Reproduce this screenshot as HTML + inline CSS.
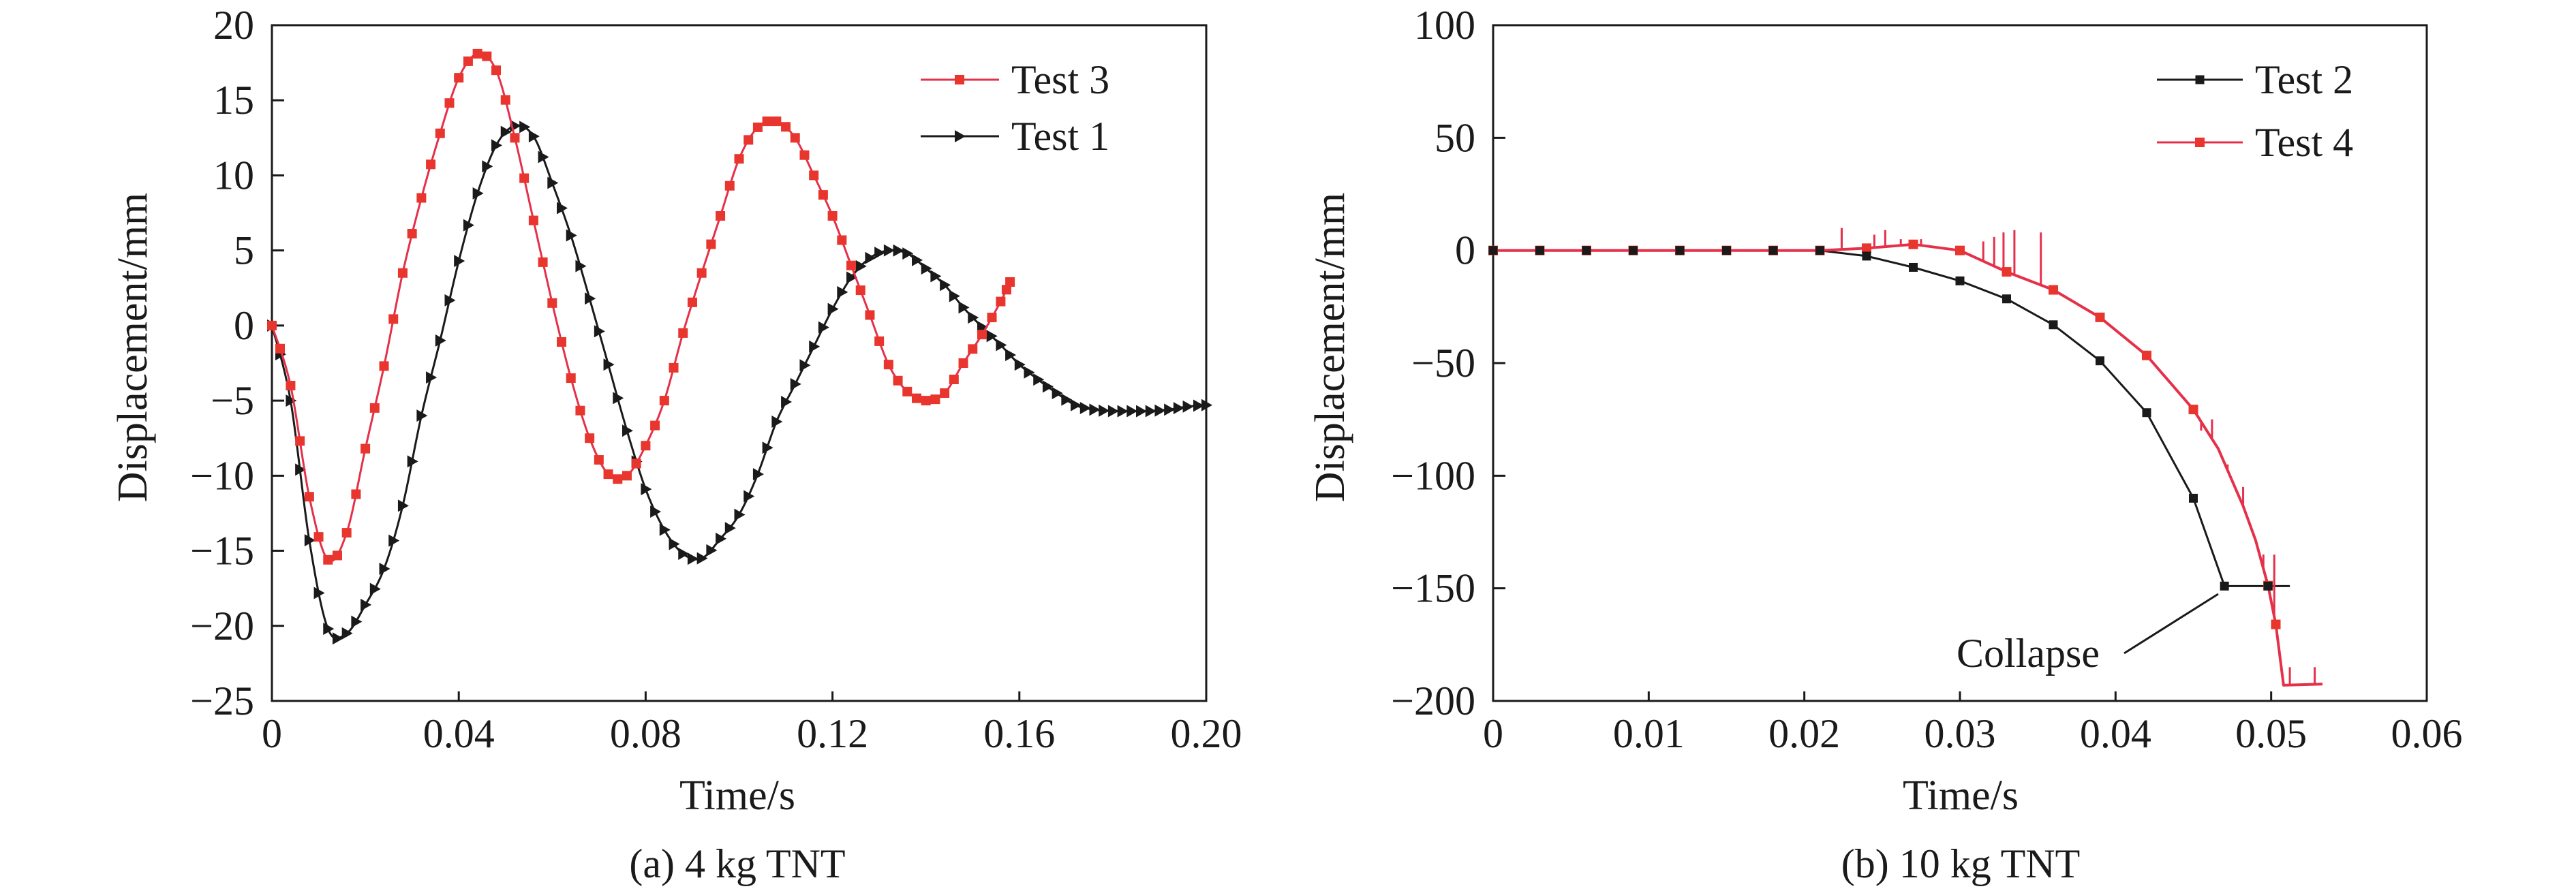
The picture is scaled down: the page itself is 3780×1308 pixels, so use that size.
<!DOCTYPE html>
<html><head><meta charset="utf-8"><style>
html,body{margin:0;padding:0;background:#fff}
svg{display:block}
text{font-family:"Liberation Serif",serif;fill:#1a1a1a}
</style></head><body>
<svg id="fig" width="3780" height="1308" viewBox="0 0 3780 1308" xmlns="http://www.w3.org/2000/svg"></svg>
<script>
// ---- Chart (a) data ----
const aTest3T = [0,0.004,0.008,0.012,0.016,0.020,0.024,0.028,0.032,0.036,0.040,0.044,0.048,0.052,0.056,0.060,0.064,0.068,0.072,0.076,0.080,0.084,0.088,0.092,0.096,0.100,0.104,0.108,0.112,0.116,0.120,0.124,0.128,0.132,0.136,0.140,0.144,0.148,0.152,0.156,0.158];
const aTest3V = [0,-4,-11.4,-15.6,-13.8,-8.2,-2.7,3.5,8.5,12.8,16.5,18.1,17,12.5,7.0,1.5,-3.5,-7.5,-9.9,-10.0,-8.0,-5.0,-0.5,3.5,7.3,11.1,13.2,13.6,12.5,10.0,7.3,4.0,0.7,-2.6,-4.4,-5.0,-4.5,-2.5,-0.6,1.6,2.9];
const aTest1T = [0,0.004,0.008,0.012,0.016,0.020,0.024,0.028,0.032,0.036,0.040,0.044,0.048,0.052,0.056,0.060,0.064,0.068,0.072,0.076,0.080,0.084,0.088,0.092,0.096,0.100,0.104,0.108,0.112,0.116,0.120,0.124,0.128,0.132,0.136,0.140,0.144,0.148,0.152,0.156,0.160,0.164,0.168,0.172,0.176,0.180,0.184,0.188,0.192,0.196,0.200];
const aTest1V = [0,-5.0,-14.3,-20.2,-20.5,-18.6,-16.2,-12.0,-6.0,-1.0,4.3,8.8,12.0,13.3,12.6,9.5,6.0,1.8,-2.6,-7.0,-10.9,-13.6,-15.2,-15.5,-14.2,-12.6,-9.9,-6.4,-3.9,-1.4,1.1,3.2,4.5,5.0,4.8,3.8,2.7,1.2,-0.1,-1.3,-2.6,-3.6,-4.5,-5.3,-5.6,-5.7,-5.7,-5.7,-5.6,-5.4,-5.3];
const aXTicks = [0,0.04,0.08,0.12,0.16,0.20];
const aXLabels = ["0","0.04","0.08","0.12","0.16","0.20"];
const aYTicks = [-25,-20,-15,-10,-5,0,5,10,15,20];
const aYLabels = ["\u221225","\u221220","\u221215","\u221210","\u22125","0","5","10","15","20"];
// ---- Chart (b) data ----
const bTest2T = [0,0.003,0.006,0.009,0.012,0.015,0.018,0.021,0.024,0.027,0.030,0.033,0.036,0.039,0.042,0.045,0.047,0.0498,0.0512];
const bTest2V = [0,0,0,0,0,0,0,0,-2.5,-7.5,-13.5,-21.5,-33,-49,-72,-110,-149,-149,-149];
const bTest4T = [0,0.003,0.006,0.009,0.012,0.015,0.018,0.021,0.024,0.027,0.030,0.033,0.036,0.039,0.042,0.045,0.0466,0.0482,0.049,0.0498,0.0503,0.0508,0.0533];
const bTest4V = [0,0,0,0,0,0,0,0,1,2.7,0,-9.5,-17.5,-29.7,-46.6,-70.6,-88,-113.5,-128.6,-148.8,-166,-193,-192.5];
const bSpikeT = [0.0224,0.0245,0.0252,0.0262,0.0275,0.0315,0.0322,0.0328,0.0335,0.0352,0.0455,0.0462,0.0472,0.0482,0.0488,0.0495,0.0502,0.0512,0.0528];
const bSpikeV = [10,7,9,5,5,4,6,8,9,8,-80,-75,-95,-105,-125,-135,-135,-185,-185];
const bXTicks = [0,0.01,0.02,0.03,0.04,0.05,0.06];
const bXLabels = ["0","0.01","0.02","0.03","0.04","0.05","0.06"];
const bYTicks = [-200,-150,-100,-50,0,50,100];
const bYLabels = ["\u2212200","\u2212150","\u2212100","\u221250","0","50","100"];

const NS="http://www.w3.org/2000/svg";
const svg=document.getElementById('fig');
function mk(tag,attrs,parent){const e=document.createElementNS(NS,tag);for(const k in attrs)e.setAttribute(k,attrs[k]);(parent||svg).appendChild(e);return e;}
const RED="#e5304a", REDM="#e8352d", BLK="#1a1a1a";

function axes(g,L,R,T,B,xmin,xmax,ymin,ymax,xt,xl,yt,yl){
  const sx=v=>L+(v-xmin)/(xmax-xmin)*(R-L);
  const sy=v=>B-(v-ymin)/(ymax-ymin)*(B-T);
  const fr=mk('rect',{x:L,y:T,width:R-L,height:B-T,fill:'none',stroke:BLK,'stroke-width':3},g);
  
  
  xt.forEach((v,i)=>{
    const tk=mk('line',{x1:sx(v),x2:sx(v),y1:B,y2:B-14,stroke:BLK,'stroke-width':3},g);
    
    
    const t=mk('text',{x:sx(v),y:1097,'font-size':60,'text-anchor':'middle'},g);
    
    
    t.textContent=xl[i];
  });
  yt.forEach((v,i)=>{
    const tk=mk('line',{x1:L,x2:L+18,y1:sy(v),y2:sy(v),stroke:BLK,'stroke-width':3},g);
    
    
    const t=mk('text',{x:L-26,y:sy(v)+20,'font-size':60,'text-anchor':'end'},g);
    
    
    t.textContent=yl[i];
  });
  return {sx,sy};
}
function path(g,xs,ys,sx,sy,color,w){
  const d=xs.map((t,i)=>(i?'L':'M')+sx(t).toFixed(1)+' '+sy(ys[i]).toFixed(1)).join(' ');
  return mk('path',{d,fill:'none',stroke:color,'stroke-width':w,'stroke-linejoin':'round'},g);
}
// returns path and list of segment midpoints (points on the spline)
function smooth(g,xs,ys,sx,sy,color,w){
  const P=xs.map((t,i)=>[sx(t),sy(ys[i])]);
  let d='M'+P[0][0]+' '+P[0][1];
  const mids=[];
  for(let i=0;i<P.length-1;i++){
    const p0=P[Math.max(0,i-1)],p1=P[i],p2=P[i+1],p3=P[Math.min(P.length-1,i+2)];
    const c1=[p1[0]+(p2[0]-p0[0])/6,p1[1]+(p2[1]-p0[1])/6];
    const c2=[p2[0]-(p3[0]-p1[0])/6,p2[1]-(p3[1]-p1[1])/6];
    d+=` C${c1[0].toFixed(1)} ${c1[1].toFixed(1)} ${c2[0].toFixed(1)} ${c2[1].toFixed(1)} ${p2[0].toFixed(1)} ${p2[1].toFixed(1)}`;
    mids.push([(p1[0]+3*c1[0]+3*c2[0]+p2[0])/8,(p1[1]+3*c1[1]+3*c2[1]+p2[1])/8]);
  }
  const p=mk('path',{d,fill:'none',stroke:color,'stroke-width':w},g);
  return {p,mids};
}
function square(g,x,y,c,s){return mk('rect',{x:x-s/2,y:y-s/2,width:s,height:s,fill:c},g);}
function tri(g,x,y){return mk('path',{d:`M${x-7} ${y-9} L${x+9} ${y} L${x-7} ${y+9} Z`,fill:BLK},g);}
function txt(g,x,y,s,anchor,str,name,rot){
  const t=mk('text',{x,y,'font-size':s,'text-anchor':anchor},g);
  if(rot)t.setAttribute('transform',`rotate(-90 ${x} ${y})`);
  
  
  t.textContent=str;return t;
}

// ---------- Chart A ----------
const gA=mk('g',{});


const A=axes(gA,399,1770,37,1029,0,0.2,-25,20,aXTicks,aXLabels,aYTicks,aYLabels);
const s1=smooth(gA,aTest1T,aTest1V,A.sx,A.sy,BLK,3);


aTest1T.forEach((t,i)=>{const m=tri(gA,A.sx(t),A.sy(aTest1V[i]));
  
  });
s1.mids.forEach(q=>{const m=tri(gA,q[0],q[1]);
  
  });
const s3=smooth(gA,aTest3T,aTest3V,A.sx,A.sy,RED,3);


aTest3T.forEach((t,i)=>{const m=square(gA,A.sx(t),A.sy(aTest3V[i]),REDM,14);
  
  });
s3.mids.forEach(q=>{const m=square(gA,q[0],q[1],REDM,14);
  
  });
// legend A
const lgA=mk('g',{},gA);


mk('line',{x1:1351,x2:1466,y1:117,y2:117,stroke:RED,'stroke-width':3},lgA);
square(lgA,1408,117,REDM,14);
txt(lgA,1484,137,60,'start','Test 3','legend-test3');
mk('line',{x1:1351,x2:1466,y1:200,y2:200,stroke:BLK,'stroke-width':3},lgA);
tri(lgA,1408,200);
txt(lgA,1484,220,60,'start','Test 1','legend-test1');
txt(gA,1082,1188,62,'middle','Time/s','x-axis-title-a');
txt(gA,215,510,62,'middle','Displacement/mm','y-axis-title-a',true);
txt(gA,1082,1288,60,'middle','(a) 4 kg TNT','caption-a');

// ---------- Chart B ----------
const gB=mk('g',{});


const B=axes(gB,2191,3561,37,1029,0,0.06,-200,100,bXTicks,bXLabels,bYTicks,bYLabels);
const l2=path(gB,bTest2T,bTest2V,B.sx,B.sy,BLK,3);


const sp2=mk('line',{x1:B.sx(0.0224),x2:B.sx(0.0224),y1:B.sy(0),y2:B.sy(9),stroke:BLK,'stroke-width':3},gB);


const l4=path(gB,bTest4T,bTest4V,B.sx,B.sy,RED,4);


bSpikeT.forEach((t,i)=>{
  let base=0;for(let k=0;k<bTest4T.length-1;k++){if(t>=bTest4T[k]&&t<=bTest4T[k+1]){const f=(t-bTest4T[k])/(bTest4T[k+1]-bTest4T[k]);base=bTest4V[k]+f*(bTest4V[k+1]-bTest4V[k]);}}
  const s=mk('line',{x1:B.sx(t),x2:B.sx(t),y1:B.sy(base),y2:B.sy(bSpikeV[i]),stroke:RED,'stroke-width':3},gB);
  
  
});
bTest4T.forEach((t,i)=>{if(t>0.046&&t<0.0495||t>0.0505)return;const m=square(gB,B.sx(t),B.sy(bTest4V[i]),REDM,14);
  
  });
bTest2T.forEach((t,i)=>{if(i===bTest2T.length-1)return;const m=square(gB,B.sx(t),B.sy(bTest2V[i]),BLK,13);
  
  });
const lgB=mk('g',{},gB);


mk('line',{x1:3165,x2:3291,y1:117,y2:117,stroke:BLK,'stroke-width':3},lgB);
square(lgB,3228,117,BLK,13);
txt(lgB,3309,137,60,'start','Test 2','legend-test2');
mk('line',{x1:3165,x2:3291,y1:209,y2:209,stroke:RED,'stroke-width':3},lgB);
square(lgB,3228,209,REDM,14);
txt(lgB,3309,229,60,'start','Test 4','legend-test4');
const cl=mk('line',{x1:3117,y1:959,x2:3255,y2:872,stroke:BLK,'stroke-width':3},gB);


txt(gB,2976,979,60,'middle','Collapse','collapse-annotation');
txt(gB,2877,1188,62,'middle','Time/s','x-axis-title-b');
txt(gB,1972,510,62,'middle','Displacement/mm','y-axis-title-b',true);
txt(gB,2877,1288,60,'middle','(b) 10 kg TNT','caption-b');
</script>
</body></html>
